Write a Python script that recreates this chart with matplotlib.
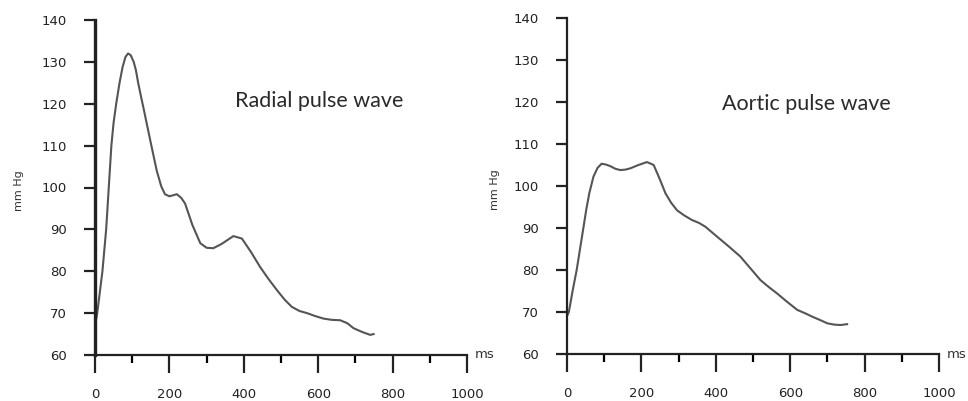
import numpy as np
import matplotlib.pyplot as plt
from matplotlib.ticker import MultipleLocator

# Radial pulse wave (ms, mm Hg)
radial_t = [0, 6, 13, 20, 30, 37, 44, 50, 57, 66, 74, 82, 89, 96, 104, 110, 116, 124,
            131, 139, 152, 166, 178, 188, 200, 220, 232, 242, 262, 283, 300, 318, 340,
            372, 395, 420, 444, 466, 489, 510, 529, 550, 570, 592, 614, 636, 659, 678,
            695, 718, 740, 749]
radial_p = [67, 70, 75, 80, 90, 100, 110, 115.5, 120, 125, 128.7, 131.2, 132, 131.6,
            130, 128, 125, 121.6, 118.7, 115.3, 109.8, 104, 100.3, 98.4, 97.9, 98.4,
            97.5, 96.2, 91, 86.7, 85.6, 85.5, 86.5, 88.4, 87.8, 84.5, 81, 78.2, 75.5,
            73.2, 71.5, 70.5, 70, 69.3, 68.7, 68.4, 68.3, 67.6, 66.4, 65.5, 64.8, 65]

# Aortic pulse wave
aortic_t = [0, 5, 15, 26, 35, 44, 52, 60, 71, 82, 93, 105, 117, 130, 143, 157, 170,
            192, 215, 233, 250, 265, 280, 296, 315, 336, 355, 372, 404, 435, 466, 493,
            520, 543, 565, 592, 619, 640, 659, 680, 700, 718, 735, 753]
aortic_p = [69, 70, 75, 80, 85, 90, 94.5, 98.3, 102.2, 104.3, 105.3, 105.1, 104.7,
            104.1, 103.8, 103.9, 104.2, 105, 105.7, 105, 101.5, 98.2, 96, 94.2, 93,
            91.9, 91.2, 90.3, 87.9, 85.6, 83.2, 80.4, 77.6, 75.9, 74.4, 72.4, 70.5,
            69.7, 68.9, 68.1, 67.3, 67, 66.9, 67.1]

panels = [
    (radial_t, radial_p, 'Radial pulse wave', [95 / 968, 46 / 401, 372 / 968, 335 / 401], 2.4, 376, 120.6, -0.19),
    (aortic_t, aortic_p, 'Aortic pulse wave', [567 / 968, 47 / 401, 372 / 968, 336 / 401], 1.6, 417, 119.6, -0.18),
]

fig = plt.figure(figsize=(9.68, 4.01), dpi=100)

for t, p, title, rect, ylw, tx, ty, ylab_x in panels:
    ax = fig.add_axes(rect)
    ax.plot(t, p, color='#555555', lw=1.5)
    ax.set_xlim(0, 1000)
    ax.set_ylim(60, 140)
    ax.spines['top'].set_visible(False)
    ax.spines['right'].set_visible(False)
    ax.spines['left'].set_linewidth(ylw)
    ax.spines['bottom'].set_linewidth(1.6)
    ax.spines['left'].set_color('#222222')
    ax.spines['bottom'].set_color('#222222')
    ax.xaxis.set_major_locator(MultipleLocator(200))
    ax.xaxis.set_minor_locator(MultipleLocator(100))
    ax.yaxis.set_major_locator(MultipleLocator(10))
    ax.tick_params(axis='x', which='major', direction='out', length=13, width=1.6,
                   pad=11, labelsize=9.5, colors='#222222')
    ax.tick_params(axis='x', which='minor', direction='out', length=6, width=1.6)
    ax.tick_params(axis='y', direction='out', length=8, width=1.6, pad=12,
                   labelsize=9.5, colors='#222222')
    ax.set_ylabel('mm Hg', fontsize=8, color='#333333')
    ax.yaxis.set_label_coords(ylab_x, 0.49)
    ax.text(1021, 60, 'ms', fontsize=9.5, color='#333333', va='center', ha='left',
            clip_on=False)
    ax.text(tx, ty, title, fontsize=15.5, family='Lato', color='#2a2a2a',
            va='center', ha='left')

fig.savefig('out.png', dpi=100)
